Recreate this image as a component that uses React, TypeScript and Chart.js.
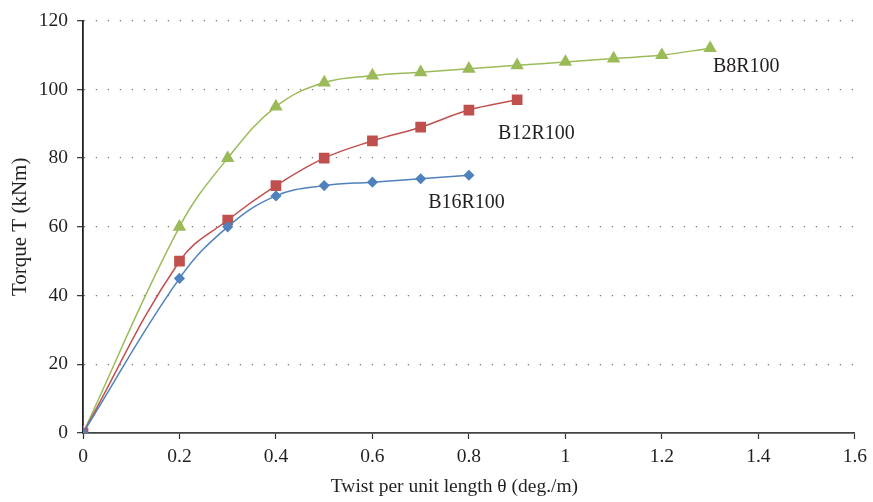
import React, { useEffect, useRef } from "react";
import { Chart, registerables } from "chart.js";

Chart.register(...registerables);

const seriesNames = ["B16R100", "B12R100", "B8R100"];
const b16X = [0, 0.2, 0.3, 0.4, 0.5, 0.6, 0.7, 0.8];
const b16Y = [0, 45, 60, 69, 72, 73, 74, 75];
const b12X = [0, 0.2, 0.3, 0.4, 0.5, 0.6, 0.7, 0.8, 0.9];
const b12Y = [0, 50, 62, 72, 80, 85, 89, 94, 97];
const b8X = [0, 0.2, 0.3, 0.4, 0.5, 0.6, 0.7, 0.8, 0.9, 1.0, 1.1, 1.2, 1.3];
const b8Y = [0, 60, 80, 95, 102, 104, 105, 106, 107, 108, 109, 110, 112];
// label anchor positions in data units
const labelX = [0.795, 0.94, 1.375];
const labelY = [67, 87, 106.7];
const xTitle = "Twist per unit length θ (deg./m)";
const yTitle = "Torque T (kNm)";

const colors = ["#4F81BD", "#C0504D", "#9BBB59"];
const FONT = "'Liberation Serif', 'Times New Roman', serif";

const toPts = (xs: number[], ys: number[]) => xs.map((x, i) => ({ x, y: ys[i] }));

const labelPlugin = {
  id: "seriesLabels",
  afterDatasetsDraw(chart: any) {
    const { ctx, scales } = chart;
    ctx.save();
    ctx.font = `20px ${FONT}`;
    ctx.fillStyle = "#231f20";
    ctx.textAlign = "center";
    ctx.textBaseline = "middle";
    seriesNames.forEach((name, i) => {
      ctx.fillText(name, scales.x.getPixelForValue(labelX[i]), scales.y.getPixelForValue(labelY[i]));
    });
    // x axis title, centred slightly left of the plot centre as in the reference
    ctx.font = `19.5px ${FONT}`;
    const cx = scales.x.getPixelForValue(0.77);
    ctx.fillText(xTitle, cx, chart.height - 15);
    ctx.restore();
  },
};

export default function App() {
  const ref = useRef<HTMLCanvasElement | null>(null);
  useEffect(() => {
    if (!ref.current) return;
    const chart = new Chart(ref.current, {
      type: "line",
      data: {
        datasets: [
          {
            label: seriesNames[0],
            data: toPts(b16X, b16Y),
            borderColor: colors[0],
            backgroundColor: colors[0],
            pointStyle: "rectRot",
            pointRadius: 4.5,
            borderWidth: 1.5,
            tension: 0.4,
          },
          {
            label: seriesNames[1],
            data: toPts(b12X, b12Y),
            borderColor: colors[1],
            backgroundColor: colors[1],
            pointStyle: "rect",
            pointRadius: 6.5,
            borderWidth: 1.5,
            tension: 0.4,
          },
          {
            label: seriesNames[2],
            data: toPts(b8X, b8Y),
            borderColor: colors[2],
            backgroundColor: colors[2],
            pointStyle: "triangle",
            pointRadius: 6.3,
            borderWidth: 1.5,
            tension: 0.4,
          },
        ],
      },
      options: {
        responsive: false,
        animation: false,
        devicePixelRatio: 1,
        layout: { padding: { top: 17, right: 16, left: 0, bottom: 0 } },
        plugins: { legend: { display: false }, tooltip: { enabled: false } },
        elements: { point: { borderWidth: 0 } },
        scales: {
          x: {
            type: "linear",
            min: 0,
            max: 1.6,
            afterFit: (s: any) => {
              s.height = 69;
            },
            ticks: {
              stepSize: 0.2,
              padding: 6,
              color: "#231f20",
              font: { family: FONT, size: 19.5 },
              callback: (v: any) => String(Number(Number(v).toFixed(1))),
            },
            grid: {
              drawOnChartArea: false,
              drawTicks: true,
              tickLength: 6,
              tickColor: "#333",
              tickWidth: 1.2,
            },
            border: { color: "#444", width: 1.8 },
            title: { display: false },
          },
          y: {
            min: 0,
            max: 120,
            afterFit: (s: any) => {
              s.width = 83;
            },
            ticks: {
              stepSize: 20,
              padding: 9,
              color: "#231f20",
              font: { family: FONT, size: 19.5 },
            },
            grid: {
              color: "#777",
              lineWidth: 1.3,
              tickLength: 6,
              tickColor: "#333",
              tickWidth: 1.2,
              tickBorderDash: [],
            },
            border: { color: "#222", width: 1.8, dash: [1.3, 10.7] },
            title: {
              display: true,
              text: yTitle,
              color: "#231f20",
              font: { family: FONT, size: 21 },
              padding: { top: 8, bottom: 0 },
            },
          },
        },
      },
      plugins: [labelPlugin],
    } as any);
    return () => chart.destroy();
  }, []);
  return (
    <div style={{ position: "absolute", left: 0, top: 0, width: 873, height: 502 }}>
      <canvas ref={ref} width={873} height={502} />
    </div>
  );
}
